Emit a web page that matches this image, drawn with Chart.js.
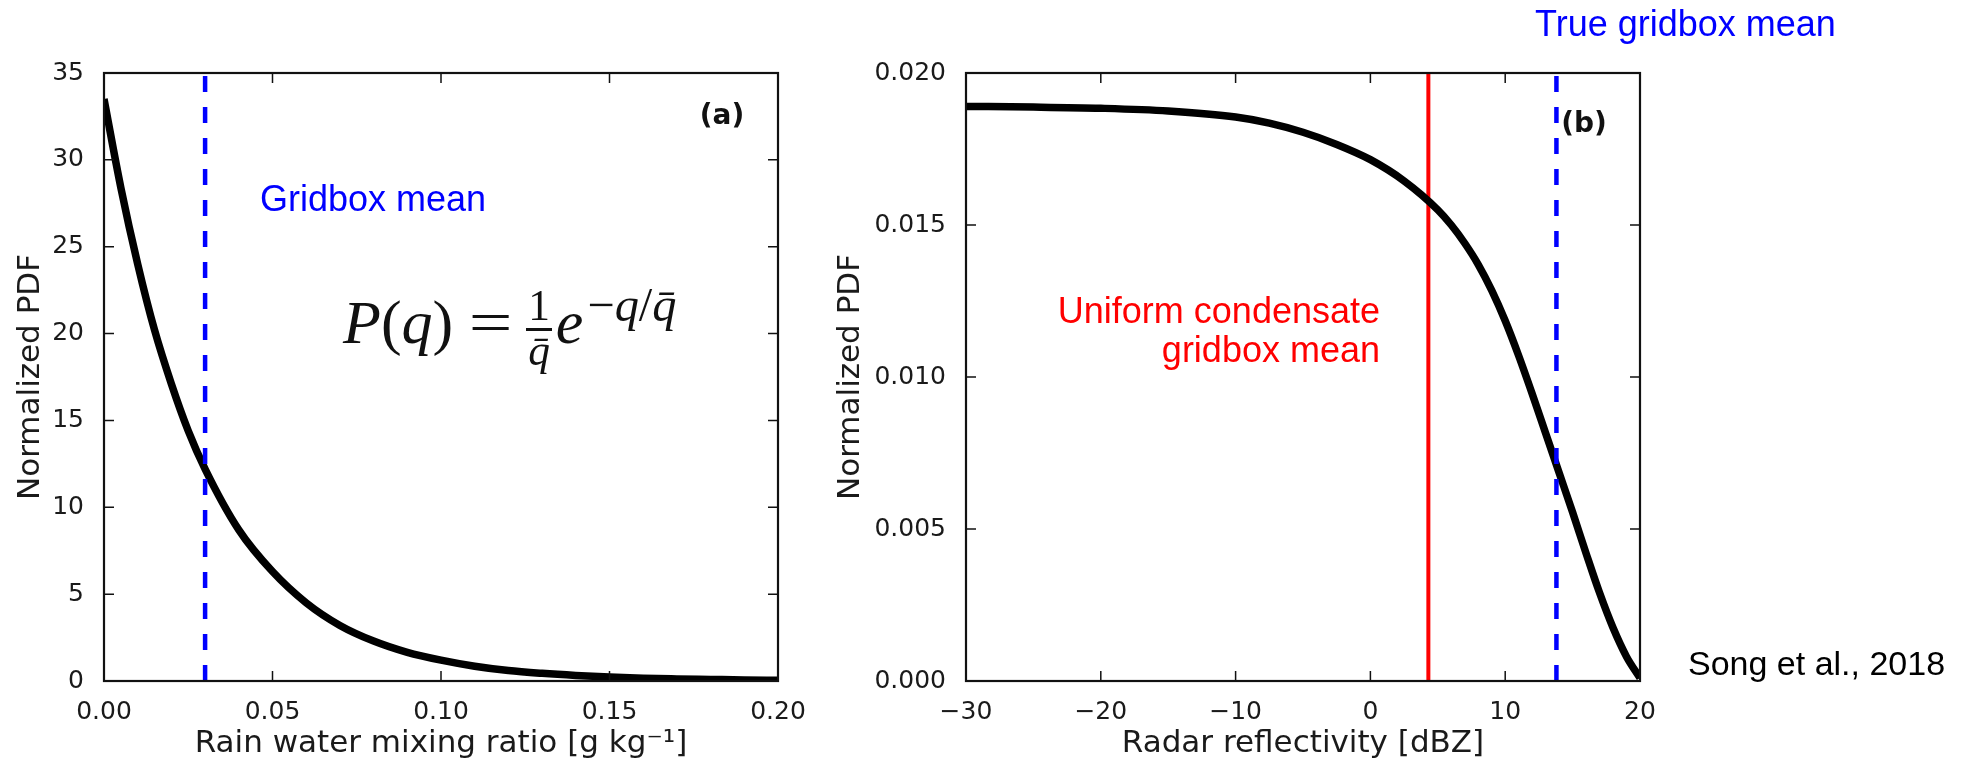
<!DOCTYPE html>
<html>
<head>
<meta charset="utf-8">
<script src="https://cdn.jsdelivr.net/npm/chart.js@4.4.1/dist/chart.umd.min.js"></script>
<style>
  body { margin: 0; background: #fff; }
  #page { position: relative; width: 1987px; height: 763px; overflow: hidden; background: #fff; }
  canvas { position: absolute; top: 0; }
  .note { position: absolute; font-family: 'Liberation Sans', Arial, sans-serif; font-size: 36px; line-height: 1; white-space: nowrap; }
  .tag { position: absolute; font-family: 'DejaVu Sans', sans-serif; font-weight: bold; font-size: 28px; line-height: 1; transform: translateX(-50%); color: #111; }
  #eq { position: absolute; left: 343px; top: 281px; font-family: 'Liberation Serif', 'DejaVu Serif', serif; font-size: 62px; line-height: 1; white-space: nowrap; color: #111; }
  #eq .eqs { display: inline-block; transform: scaleX(1.25); margin: 0 18px 0 20px; }
  #eq .frac { display: inline-block; vertical-align: -0.5em; text-align: center; font-size: 0.7em; line-height: 0.92; margin-right: 4px; }
  #eq .frac > span { display: block; padding: 0 2px; }
  #eq .frac > span:first-child { border-bottom: 3px solid #111; padding-bottom: 2px; }
  #eq sup { font-size: 0.78em; vertical-align: 0.46em; margin-left: 4px; }
</style>
</head>
<body>
<div id="page">
  <canvas id="rainCanvas" width="830" height="763" style="left:0"></canvas>
  <canvas id="dbzCanvas" width="1157" height="763" style="left:830px"></canvas>

  <div class="note" style="left:260px; top:181px; color:#0000ff">Gridbox mean</div>
  <div id="eq"><i>P</i>(<i>q</i>)<span class="eqs">=</span><span class="frac"><span>1</span><span><i>q&#772;</i></span></span><i>e</i><sup>&minus;<i>q</i>/<i>q&#772;</i></sup></div>
  <div class="tag" style="left:722px; top:101px">(a)</div>

  <div class="note" style="left:1535px; top:6px; color:#0000ff">True gridbox mean</div>
  <div class="note" style="right:607px; top:293px; color:#ff0000; text-align:right">Uniform condensate</div>
  <div class="note" style="right:607px; top:332px; color:#ff0000; text-align:right">gridbox mean</div>
  <div class="tag" style="left:1584px; top:109px">(b)</div>
  <div class="note" style="left:1688px; top:646px; font-size:34px; color:#000">Song et al., 2018</div>
</div>

<script>
// panel (a): exponential rain water PDF
const rainQ = [0, 0.005, 0.01, 0.015, 0.02, 0.025, 0.03, 0.04, 0.05, 0.06, 0.07, 0.08, 0.09, 0.10, 0.11, 0.12, 0.13, 0.14, 0.15, 0.16, 0.17, 0.18, 0.19, 0.20];
const rainPdf = [33.5, 28.4, 24.0, 20.2, 17.1, 14.4, 12.2, 8.7, 6.3, 4.5, 3.2, 2.3, 1.65, 1.2, 0.85, 0.6, 0.44, 0.32, 0.23, 0.16, 0.12, 0.09, 0.06, 0.04];
const rainMeanQ = 0.03;
const rainXTicks = [0, 0.05, 0.10, 0.15, 0.20];
const rainYTicks = [0, 5, 10, 15, 20, 25, 30, 35];

// panel (b): same PDF mapped to reflectivity
const dbzValues = [-30, -25, -20, -15, -10, -7.5, -5, -2.5, 0, 2.5, 5, 6, 7, 8, 9, 10, 11, 12, 13, 14, 15, 16, 17, 18, 19, 20];
const dbzPdf = [0.01890, 0.01888, 0.01884, 0.01875, 0.01855, 0.01835, 0.01805, 0.01765, 0.01715, 0.01645, 0.01550, 0.01500, 0.01440, 0.01370, 0.01285, 0.01185, 0.01070, 0.00945, 0.00815, 0.00685, 0.00555, 0.00420, 0.00290, 0.00175, 0.00080, 0.00010];
const trueMeanDbz = 13.8;
const uniformMeanDbz = 4.3;
const dbzXTicks = [-30, -20, -10, 0, 10, 20];
const dbzYTicks = [0, 0.005, 0.010, 0.015, 0.020];

const tickFont = { family: 'DejaVu Sans', size: 25 };
const titleFont = { family: 'DejaVu Sans', size: 31 };
const inkColor = '#1a1a1a';

// closed frame with inward ticks on all four sides
const boxTicks = {
    id: 'boxTicks',
    afterDatasetsDraw(chart) {
        const { ctx, chartArea: a, scales: { x, y } } = chart;
        ctx.save();
        ctx.strokeStyle = '#111';
        ctx.lineWidth = 1.5;
        ctx.beginPath();
        x.ticks.forEach(t => {
            const px = x.getPixelForValue(t.value);
            ctx.moveTo(px, a.bottom); ctx.lineTo(px, a.bottom - 10);
            ctx.moveTo(px, a.top); ctx.lineTo(px, a.top + 10);
        });
        y.ticks.forEach(t => {
            const py = y.getPixelForValue(t.value);
            ctx.moveTo(a.left, py); ctx.lineTo(a.left + 10, py);
            ctx.moveTo(a.right, py); ctx.lineTo(a.right - 10, py);
        });
        ctx.stroke();
        ctx.lineWidth = 2.2;
        ctx.strokeRect(a.left, a.top, a.right - a.left, a.bottom - a.top);
        ctx.restore();
    }
};

function pairs(xs, ys) {
    return xs.map((x, i) => ({ x: x, y: ys[i] }));
}

function vline(x, yMax) {
    return [{ x: x, y: 0 }, { x: x, y: yMax }];
}

function drawPanel(canvasId, p) {
    const ctx = document.getElementById(canvasId).getContext('2d');
    return new Chart(ctx, {
        type: 'line',
        data: { datasets: p.datasets },
        options: {
            responsive: false,
            animation: false,
            events: [],
            layout: { padding: { left: 0, top: 73, right: p.padRight, bottom: 0 } },
            plugins: { legend: { display: false }, tooltip: { enabled: false } },
            elements: { point: { radius: 0 } },
            scales: {
                x: {
                    type: 'linear',
                    min: p.xTicks[0],
                    max: p.xTicks[p.xTicks.length - 1],
                    grid: { display: false },
                    border: { display: false },
                    afterBuildTicks: s => { s.ticks = p.xTicks.map(v => ({ value: v })); },
                    afterFit: s => { s.height = 82; },
                    ticks: { font: tickFont, color: inkColor, padding: 8, maxRotation: 0, autoSkip: false, callback: p.xFormat },
                    title: { display: true, text: p.xTitle, font: titleFont, color: inkColor, padding: { top: 0, bottom: 0 } }
                },
                y: {
                    type: 'linear',
                    min: p.yTicks[0],
                    max: p.yTicks[p.yTicks.length - 1],
                    grid: { display: false },
                    border: { display: false },
                    afterBuildTicks: s => { s.ticks = p.yTicks.map(v => ({ value: v })); },
                    afterFit: s => { s.width = p.yWidth; },
                    ticks: { font: tickFont, color: inkColor, padding: 12, autoSkip: false, callback: p.yFormat },
                    title: { display: true, text: 'Normalized PDF', font: titleFont, color: inkColor, padding: { top: p.yTitlePad, bottom: 0 } }
                }
            }
        },
        plugins: [boxTicks]
    });
}

drawPanel('rainCanvas', {
    padRight: 52,
    yWidth: 104,
    yTitlePad: 12,
    xTicks: rainXTicks,
    yTicks: rainYTicks,
    xTitle: 'Rain water mixing ratio [g kg\u207B\u00B9]',
    xFormat: v => v.toFixed(2),
    yFormat: v => String(v),
    datasets: [
        { data: vline(rainMeanQ, 35), borderColor: '#0000ff', borderWidth: 4.5, borderDash: [16, 15], clip: 0, order: 1 },
        { data: pairs(rainQ, rainPdf), borderColor: '#000', borderWidth: 7.5, cubicInterpolationMode: 'monotone', clip: 0, order: 2 }
    ]
});

drawPanel('dbzCanvas', {
    padRight: 347,
    yWidth: 136,
    yTitlePad: 2,
    xTicks: dbzXTicks,
    yTicks: dbzYTicks,
    xTitle: 'Radar reflectivity [dBZ]',
    xFormat: v => v < 0 ? '\u2212' + Math.abs(v) : String(v),
    yFormat: v => v.toFixed(3),
    datasets: [
        { data: vline(trueMeanDbz, 0.02), borderColor: '#0000ff', borderWidth: 4.5, borderDash: [16, 15], clip: 0, order: 1 },
        { data: pairs(dbzValues, dbzPdf), borderColor: '#000', borderWidth: 7.5, cubicInterpolationMode: 'monotone', clip: 0, order: 2 },
        { data: vline(uniformMeanDbz, 0.02), borderColor: '#ff0000', borderWidth: 4, clip: 0, order: 3 }
    ]
});
</script>
</body>
</html>
